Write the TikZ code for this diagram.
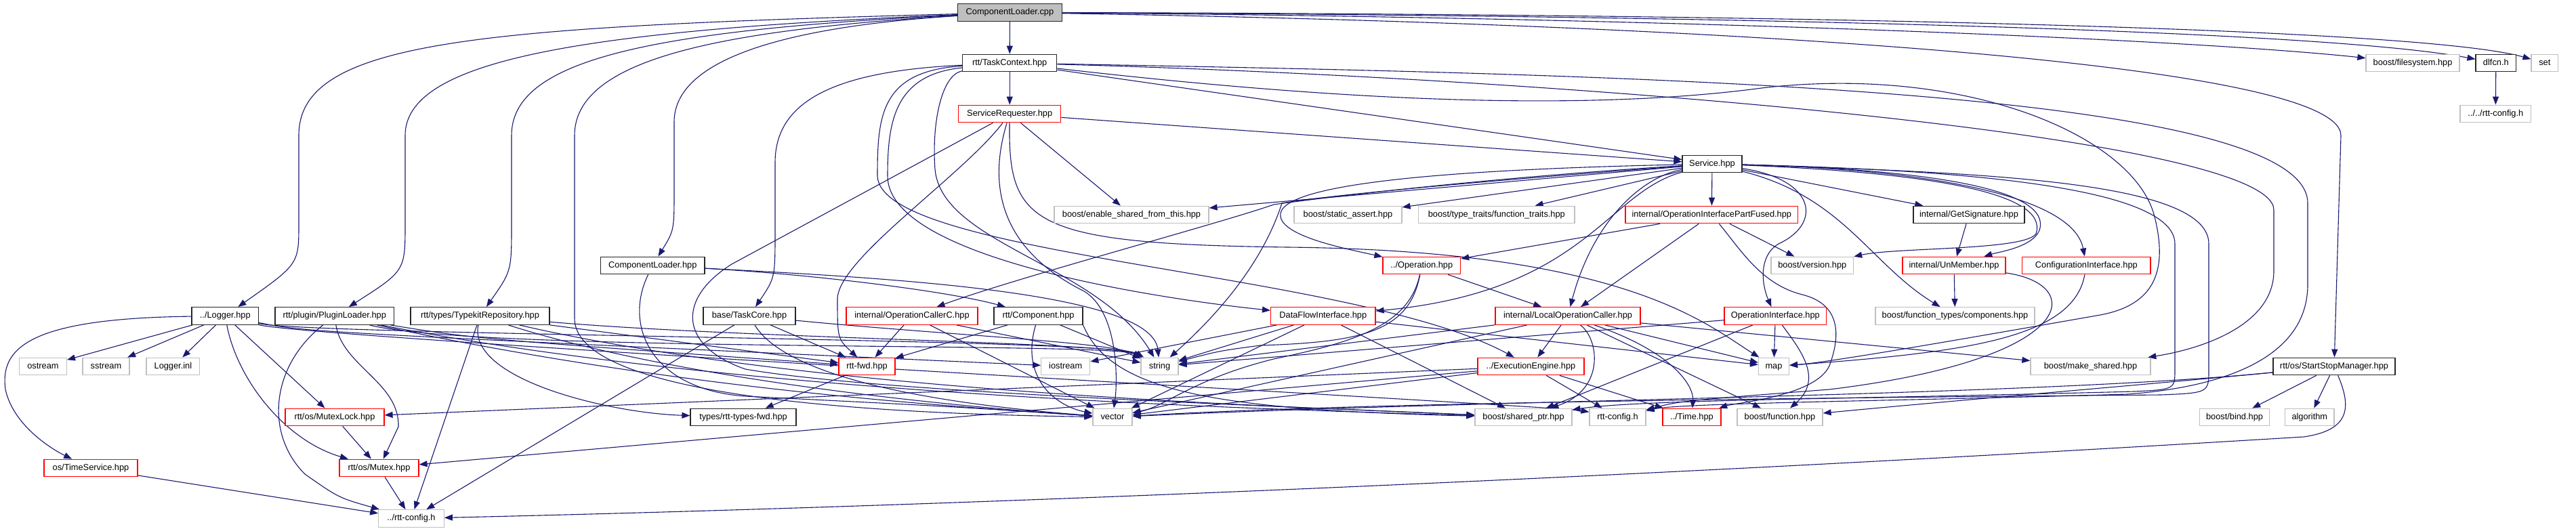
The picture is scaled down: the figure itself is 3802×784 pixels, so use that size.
\documentclass[tikz,border=0pt]{standalone}
\usepackage{fontspec}
\setmainfont{Liberation Sans}
\usetikzlibrary{arrows.meta}
\definecolor{edgec}{HTML}{191970}
\definecolor{gry}{HTML}{BFBFBF}
\definecolor{rd}{HTML}{FF0000}
\pgfdeclarelayer{bg}
\pgfsetlayers{bg,main}
\tikzset{
  nd/.style={draw, fill=white, minimum height=25.6pt, inner sep=0pt, line width=1.2pt, font=\fontsize{12.8pt}{15pt}\selectfont, text height=9.3pt, text depth=2.6pt},
  blk/.style={nd, draw=black!85},
  rnode/.style={nd, draw=rd},
  gnode/.style={nd, draw=gry},
  rootnode/.style={nd, draw=black!85, fill=gry},
  dep/.style={draw=edgec, line width=1.1pt, -{Triangle[length=12pt,width=9pt]}},
}
\begin{document}
\begin{tikzpicture}[x=1pt,y=-1pt]
\useasboundingbox (0,0) rectangle (3802,784);
% row 0
\node[rootnode, minimum width=154] (r0) at (1490.4,18.5) {ComponentLoader.cpp};
% row 1
\node[blk, minimum width=139] (tc) at (1490.2,93) {rtt/TaskContext.hpp};
\node[gnode, minimum width=138] (fs) at (3561,93) {boost/filesystem.hpp};
\node[blk, minimum width=59.5] (dl) at (3683.8,93) {dlfcn.h};
\node[gnode, minimum width=39.5] (set) at (3755.8,93) {set};
% row 2
\node[rnode, minimum width=151] (sr) at (1490.2,168) {ServiceRequester.hpp};
\node[gnode, minimum width=104.5] (rcfgb) at (3683.3,168) {../../rtt-config.h};
% row 3
\node[blk, minimum width=88] (svc) at (2527,242) {Service.hpp};
% row 4
\node[gnode, minimum width=228] (esft) at (1670,317) {boost/enable\_shared\_from\_this.hpp};
\node[gnode, minimum width=159] (sa) at (1989.5,317) {boost/static\_assert.hpp};
\node[gnode, minimum width=230.5] (ftr) at (2208.8,317) {boost/type\_traits/function\_traits.hpp};
\node[rnode, minimum width=254.5] (oipf) at (2526.3,317) {internal/OperationInterfacePartFused.hpp};
\node[blk, minimum width=164] (gs) at (2906,317) {internal/GetSignature.hpp};
% row 5
\node[blk, minimum width=153.5] (clh) at (963.3,392) {ComponentLoader.hpp};
\node[rnode, minimum width=114.5] (op) at (2098.3,392) {../Operation.hpp};
\node[gnode, minimum width=121.5] (ver) at (2674.8,392) {boost/version.hpp};
\node[rnode, minimum width=152] (unm) at (2884,392) {internal/UnMember.hpp};
\node[rnode, minimum width=189.5] (cfi) at (3079.3,392) {ConfigurationInterface.hpp};
% row 6
\node[blk, minimum width=98.6] (log) at (332.3,466.5) {../Logger.hpp};
\node[blk, minimum width=175.6] (pl) at (493.8,466.5) {rtt/plugin/PluginLoader.hpp};
\node[blk, minimum width=205] (tkr) at (708.5,466.5) {rtt/types/TypekitRepository.hpp};
\node[blk, minimum width=136] (tcore) at (1106,466.5) {base/TaskCore.hpp};
\node[rnode, minimum width=194] (occ) at (1346,466.5) {internal/OperationCallerC.hpp};
\node[blk, minimum width=131] (comp) at (1532.5,466.5) {rtt/Component.hpp};
\node[rnode, minimum width=154.5] (dfi) at (1952.8,466.5) {DataFlowInterface.hpp};
\node[rnode, minimum width=214] (loc) at (2314,466.5) {internal/LocalOperationCaller.hpp};
\node[rnode, minimum width=150.5] (oi) at (2620.3,466.5) {OperationInterface.hpp};
\node[gnode, minimum width=235] (ftc) at (2885.5,466.5) {boost/function\_types/components.hpp};
% row 7
\node[gnode, minimum width=69.8] (ost) at (63.5,541) {ostream};
\node[gnode, minimum width=69] (sst) at (156.5,541) {sstream};
\node[gnode, minimum width=78.7] (linl) at (255.4,541) {Logger.inl};
\node[rnode, minimum width=83] (fwd) at (1279.5,541) {rtt-fwd.hpp};
\node[gnode, minimum width=72] (ios) at (1572.7,541) {iostream};
\node[gnode, minimum width=55] (str) at (1711.5,541) {string};
\node[rnode, minimum width=157] (ee) at (2259.5,541) {../ExecutionEngine.hpp};
\node[gnode, minimum width=45] (map) at (2618,541) {map};
\node[gnode, minimum width=177] (mks) at (3085.5,541) {boost/make\_shared.hpp};
\node[blk, minimum width=180] (ssm) at (3445,541) {rtt/os/StartStopManager.hpp};
% row 8
\node[rnode, minimum width=146] (mlock) at (494,616) {rtt/os/MutexLock.hpp};
\node[blk, minimum width=156] (rtfwd) at (1097,616) {types/rtt-types-fwd.hpp};
\node[gnode, minimum width=58] (vec) at (1642,616) {vector};
\node[gnode, minimum width=143] (shp) at (2248.5,616) {boost/shared\_ptr.hpp};
\node[gnode, minimum width=83] (cfg) at (2387.5,616) {rtt-config.h};
\node[rnode, minimum width=86] (time) at (2497,616) {../Time.hpp};
\node[gnode, minimum width=126] (fn) at (2627,616) {boost/function.hpp};
\node[gnode, minimum width=103.5] (bind) at (3298,616) {boost/bind.hpp};
\node[gnode, minimum width=72.4] (alg) at (3408.8,616) {algorithm};
% row 9
\node[rnode, minimum width=138] (ts) at (134,691) {os/TimeService.hpp};
\node[rnode, minimum width=117] (mtx) at (559.5,691) {rtt/os/Mutex.hpp};
% row 10
\node[gnode, minimum width=96.5] (rcfg) at (607,765.5) {../rtt-config.h};

\begin{pgfonlayer}{bg}
\fill[white] (0,0) rectangle (3802,784);
% root
\draw[dep] (r0) -- (tc);
\draw[dep] (r0) .. controls (700,40) and (441,60) .. (441,200) -- (441,330) .. controls (441,390) .. (log);
\draw[dep] (r0) .. controls (850,45) and (598,90) .. (598,200) -- (598,330) .. controls (598,400) .. (pl);
\draw[dep] (r0) .. controls (950,45) and (755,90) .. (755,200) -- (755,330) .. controls (755,400) .. (tkr);
\draw[dep] (r0) .. controls (1050,45) and (848,90) .. (848,200) -- (848,470) .. controls (848,600) and (1400,612) .. (vec);
\draw[dep] (r0) .. controls (1150,40) and (995,90) .. (995,180) -- (995,280) .. controls (995,340) .. (clh);
\draw[dep] (r0) .. controls (2400,25) and (3200,55) .. (fs);
\draw[dep] (r0) .. controls (2400,22) and (3400,40) .. (dl);
\draw[dep] (r0) .. controls (2400,20) and (3550,35) .. (set);
\draw[dep] (r0) .. controls (2500,35) and (3455,90) .. (3455,200) -- (ssm);
% TaskContext
\draw[dep] (tc) -- (sr);
\draw[dep] (tc) -- (svc);
\draw[dep] (tc) .. controls (1230,105) and (1144,150) .. (1144,240) -- (1144,340) .. controls (1144,410) .. (tcore);
\draw[dep] (tc) .. controls (1300,105) and (1295,170) .. (1295,260) .. controls (1300,380) and (2000,400) .. (ee);
\draw[dep] (tc) .. controls (1320,110) and (1310,180) .. (1310,260) .. controls (1310,380) and (1700,440) .. (dfi);
\draw[dep] (tc) .. controls (1390,110) and (1375,180) .. (1380,250) .. controls (1390,360) and (1620,390) .. (str);
\draw[dep] (tc) .. controls (2400,110) and (3406,130) .. (3406,300) -- (3406,420) .. controls (3406,520) and (3300,570) .. (3140,582) .. controls (2800,592) and (2480,595) .. (cfg);
\draw[dep] (tc) .. controls (2300,115) and (3356,200) .. (3356,310) -- (3356,400) .. controls (3356,480) and (3250,515) .. (mks);
\draw[dep] (tc) .. controls (1900,140) and (2300,170) .. (2600,130) .. controls (2900,95) and (3150,200) .. (3180,320) .. controls (3200,400) and (3180,450) .. (3100,465) .. controls (2900,500) and (2700,535) .. (map);
% ServiceRequester
\draw[dep] (sr) -- (esft);
\draw[dep] (sr) -- (svc);
\draw[dep] (sr) .. controls (1420,260) and (1240,380) .. (1236,440) .. controls (1236,500) .. (fwd);
\draw[dep] (sr) -- (1080,390) .. controls (1000,440) and (1000,510) .. (1100,545) .. controls (1300,580) and (1900,600) .. (shp);
\draw[dep] (sr) .. controls (1450,300) and (1500,380) .. (1600,430) .. controls (1650,460) and (1650,560) .. (vec);
\draw[dep] (sr) .. controls (1488,330) and (1520,360) .. (1900,365) .. controls (2400,370) and (2520,480) .. (map);
% Service
\draw[dep] (svc) -- (oipf);
\draw[dep] (svc) -- (gs);
\draw[dep] (svc) -- (sa);
\draw[dep] (svc) -- (ftr);
\draw[dep] (svc) -- (esft);
\draw[dep] (svc) .. controls (2150,250) and (1880,270) .. (1890,320) .. controls (1895,350) and (1990,368) .. (op);
\draw[dep] (svc) .. controls (2200,262) and (1950,292) .. (1880,302) .. controls (1800,330) and (1500,410) .. (occ);
\draw[dep] (svc) .. controls (2370,285) and (2340,430) .. (dfi);
\draw[dep] (svc) .. controls (2420,262) and (2350,330) .. (loc);
\draw[dep] (svc) .. controls (2680,265) and (2690,330) .. (2625,360) .. controls (2595,378) and (2600,420) .. (oi);
\draw[dep] (svc) .. controls (2850,250) and (3030,280) .. (3010,340) .. controls (3000,365) and (2950,372) .. (unm);
\draw[dep] (svc) .. controls (2850,255) and (3025,285) .. (3005,345) .. controls (2990,370) and (2800,365) .. (ver);
\draw[dep] (svc) .. controls (2850,250) and (3060,290) .. (cfi);
\draw[dep] (svc) .. controls (2720,290) and (2760,390) .. (ftc);
\draw[dep] (svc) .. controls (2150,270) and (1950,290) .. (1892,300) .. controls (1860,400) and (1780,480) .. (str);
\draw[dep] (svc) .. controls (2850,250) and (3210,270) .. (3210,360) -- (3210,545) .. controls (3210,575) .. (3150,578) .. controls (2700,590) and (2420,590) .. (shp);
\draw[dep] (svc) .. controls (2950,255) and (3260,270) .. (3260,360) -- (3260,545) .. controls (3260,580) .. (3190,583) .. controls (2600,588) and (2000,595) .. (vec);
% OperationInterfacePartFused
\draw[dep] (oipf) -- (op);
\draw[dep] (oipf) -- (ver);
\draw[dep] (oipf) -- (loc);
\draw[dep] (oipf) .. controls (2570,370) and (2600,420) .. (2660,435) .. controls (2720,450) and (2715,500) .. (2700,540) .. controls (2680,585) and (2560,595) .. (time);
% GetSignature, UnMember, ConfigurationInterface
\draw[dep] (gs) -- (unm);
\draw[dep] (unm) -- (ftc);
\draw[dep] (unm) .. controls (3080,420) and (3070,530) .. (2700,575) .. controls (2480,592) .. (cfg);
\draw[dep] (cfi) .. controls (3060,500) and (2900,520) .. (map);
% OperationInterface
\draw[dep] (oi) -- (map);
\draw[dep] (oi) .. controls (2660,520) and (2690,560) .. (fn);
\draw[dep] (oi) -- (shp);
\draw[dep] (oi) -- (str);
% Operation
\draw[dep] (op) -- (loc);
\draw[dep] (op) .. controls (2080,480) and (2000,505) .. (1880,530) .. controls (1760,560) and (1720,600) .. (vec);
\draw[dep] (op) .. controls (2080,490) and (2010,505) .. (1860,510) .. controls (1800,518) .. (str);
% LocalOperationCaller
\draw[dep] (loc) -- (ee);
\draw[dep] (loc) .. controls (2360,500) and (2370,575) .. (shp);
\draw[dep] (loc) -- (mks);
\draw[dep] (loc) .. controls (2470,520) and (2500,570) .. (time);
\draw[dep] (loc) -- (str);
\draw[dep] (loc) -- (vec);
\draw[dep] (loc) -- (map);
\draw[dep] (loc) -- (fn);
% ExecutionEngine
\draw[dep] (ee) -- (mlock);
\draw[dep] (ee) -- (mtx);
\draw[dep] (ee) -- (cfg);
\draw[dep] (ee) -- (time);
\draw[dep] (ee) -- (vec);
% DataFlowInterface
\draw[dep] (dfi) -- (str);
\draw[dep] (dfi) -- (vec);
\draw[dep] (dfi) -- (ios);
\draw[dep] (dfi) -- (shp);
\draw[dep] (dfi) -- (map);
% OperationCallerC
\draw[dep] (occ) -- (fwd);
\draw[dep] (occ) -- (str);
\draw[dep] (occ) -- (vec);
% Component
\draw[dep] (comp) -- (fwd);
\draw[dep] (comp) -- (str);
\draw[dep] (comp) .. controls (1505,560) and (1560,600) .. (vec);
\draw[dep] (comp.south east) .. controls (1640,580) and (1800,605) .. (shp);
% TaskCore
\draw[dep] (tcore) -- (rcfg);
\draw[dep] (tcore) -- (fwd);
\draw[dep] (tcore) .. controls (1400,495) and (1640,505) .. (str);
\draw[dep] (tcore) .. controls (1150,540) and (1300,590) .. (vec);
% TypekitRepository
\draw[dep] (tkr) -- (rcfg);
\draw[dep] (tkr) .. controls (690,560) and (900,610) .. (rtfwd);
\draw[dep] (tkr) -- (fwd);
\draw[dep] (tkr) .. controls (1100,500) and (1640,505) .. (str);
\draw[dep] (tkr) .. controls (1000,560) and (1400,600) .. (vec);
\draw[dep] (tkr) .. controls (1200,580) and (1900,600) .. (shp);
% PluginLoader
\draw[dep] (pl) .. controls (505,540) and (590,565) .. (588,630) -- (mtx);
\draw[dep] (pl) .. controls (400,540) and (390,640) .. (450,700) .. controls (500,735) .. (rcfg);
\draw[dep] (pl) .. controls (700,520) and (1640,505) .. (str);
\draw[dep] (pl) .. controls (1000,575) and (1400,600) .. (vec);
\draw[dep] (pl) .. controls (1100,585) and (1900,605) .. (shp);
\draw[dep] (pl) .. controls (700,500) .. (fwd);
% Logger
\draw[dep] (log) -- (ost);
\draw[dep] (log) -- (sst);
\draw[dep] (log) -- (linl);
\draw[dep] (log) .. controls (40,470) and (0,515) .. (8,575) .. controls (20,630) and (80,665) .. (ts);
\draw[dep] (log) -- (mlock);
\draw[dep] (log) .. controls (350,560) and (420,650) .. (mtx);
\draw[dep] (log) .. controls (450,490) .. (ios);
\draw[dep] (log) .. controls (460,495) and (1640,500) .. (str);
\draw[dep] (log) .. controls (460,500) and (2300,600) .. (cfg);
% ComponentLoader.hpp
\draw[dep] (clh) .. controls (1200,405) and (1400,430) .. (comp);
\draw[dep] (clh) .. controls (1300,410) and (1700,430) .. (str);
\draw[dep] (clh) .. controls (920,480) and (960,575) .. (1100,585) .. controls (1400,600) .. (vec);
% misc
\draw[dep] (fwd) -- (rtfwd);
\draw[dep] (mlock) -- (mtx);
\draw[dep] (mtx) -- (rcfg);
\draw[dep] (ts) -- (rcfg);
\draw[dep] (dl) -- (rcfgb);
% StartStopManager
\draw[dep] (ssm) -- (bind);
\draw[dep] (ssm) -- (alg);
\draw[dep] (ssm) .. controls (3470,600) and (3470,635) .. (3400,645) .. controls (2500,700) and (1500,745) .. (rcfg);
\draw[dep] (ssm) .. controls (3200,565) and (2900,590) .. (fn);
\draw[dep] (ssm) .. controls (3000,585) and (2200,590) .. (vec);
\end{pgfonlayer}
\end{tikzpicture}
\end{document}
